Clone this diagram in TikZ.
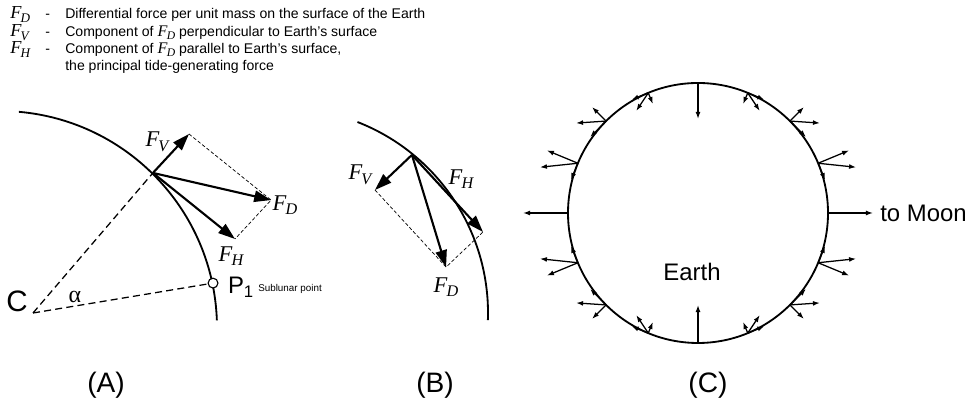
\documentclass[tikz,border=0pt]{standalone}
\usepackage{fontspec}
\setmainfont{Liberation Sans}
\newfontfamily\tnr{Liberation Serif}
\usepackage{tikz}
\usetikzlibrary{arrows.meta,positioning,calc}

\newcommand{\Fsub}[1]{{\tnr\itshape F\kern-0.04em\raisebox{-0.45ex}{\scalebox{0.72}{#1}}}}
\newcommand{\Fin}[1]{{\fontsize{11.5}{11.5}\selectfont\tnr\itshape F\kern-0.04em\raisebox{-0.35ex}{\scalebox{0.72}{#1}}}}

\begin{document}
\begin{tikzpicture}[
    x=0.025cm, y=0.025cm,
    surface/.style={line width=1.3pt},
    forcevec/.style={-{Triangle[length=12pt,width=8pt]}, line width=1.5pt},
    fieldvec/.style={-{Latex[length=5pt,width=3.5pt]}, line width=0.9pt},
    guide/.style={line width=0.5pt, dash pattern=on 2.5pt off 1.5pt},
    radline/.style={line width=0.9pt, dash pattern=on 5pt off 3pt},
    sublunar/.style={circle, draw, fill=white, line width=0.8pt, minimum size=7pt, inner sep=0pt},
    flabel/.style={font=\fontsize{16}{16}\selectfont, inner sep=0pt},
    legtext/.style={font=\fontsize{10}{12}\selectfont, anchor=base west, inner sep=0pt},
    panel/.style={font=\fontsize{20}{20}\selectfont}
]
\useasboundingbox (0,0) rectangle (970,418);

\foreach \y/\s/\t in {399/D/{Differential force per unit mass on the surface of the Earth},
    381/V/{Component of \Fin{D} perpendicular to Earth's surface},
    364/H/{Component of \Fin{D} parallel to Earth's surface,}} {
  \node[legtext] (sym\s) at (10,\y) {\fontsize{13}{13}\selectfont\Fsub{\s}};
  \node[legtext] (dash\s) at (45,\y) {-};
  \node[legtext] (txt\s) at (65,\y) {\t};
}
\node[legtext] (txtH2) at (65,347) {the principal tide-generating force};

% (A)
\coordinate (cA) at (0,90);
\draw[surface] (cA) ++(85:217) arc[start angle=85, end angle=2, radius=217];
\coordinate (ptA) at ($(cA)+(45.4:217.8)$);
\coordinate (ctr) at (33,105);
\node[sublunar] (P1) at ($(cA)+(11.9:217.7)$) {};
\draw[radline] (ctr) -- (ptA);
\draw[radline] (ctr) -- (P1);
\coordinate (vA) at (189,284);
\coordinate (hA) at (235,179);
\coordinate (dA) at ($(vA)+(hA)-(ptA)$);
\draw[guide] (vA) -- (dA) -- (hA);
\draw[forcevec] (ptA) -- (vA);
\draw[forcevec] (ptA) -- (dA);
\draw[forcevec] (ptA) -- (hA);
\node[flabel] (lvA) at (157,276) {\Fsub{V}};
\node[flabel] (ldA) at (285,213) {\Fsub{D}};
\node[flabel] (lhA) at (231,162) {\Fsub{H}};
\node[font=\fontsize{17}{17}\selectfont, inner sep=0pt] (p1lab) at (241,131) {P\textsubscript{1}};
\node[font=\fontsize{7}{8}\selectfont, anchor=west, inner sep=0pt] (sublab) at (258,129) {Sublunar point};
\node[font=\fontsize{21}{21}\selectfont, inner sep=0pt] (clab) at (17,117) {C};
\node[font=\fontsize{17}{17}\selectfont, inner sep=0pt] (alab) at (75,121) {\tnr α};

% (B)
\coordinate (cB) at (283,105);
\draw[surface] (cB) ++(68.7:205) arc[start angle=68.7, end angle=-2, radius=205];
\coordinate (ptB) at ($(cB)+(50.8:204)$);
\coordinate (vB) at (375,228);
\coordinate (hB) at (483,186);
\coordinate (dB) at ($(vB)+(hB)-(ptB)$);
\draw[guide] (vB) -- (dB) -- (hB);
\draw[forcevec] (ptB) -- (vB);
\draw[forcevec] (ptB) -- (dB);
\draw[forcevec] (ptB) -- (hB);
\node[flabel] (lvB) at (360,243) {\Fsub{V}};
\node[flabel] (lhB) at (461,239) {\Fsub{H}};
\node[flabel] (ldB) at (446,131) {\Fsub{D}};

% (C)
\coordinate (cC) at (698,205);
\draw[surface] (cC) circle[radius=130];
\foreach \ang/\fx/\fy [count=\k] in {0/45/0, 90/0/-36, 180/-45/0, 270/0/38} {
  \coordinate (a\k) at ($(cC)+(\ang:130)$);
  \draw[fieldvec] (a\k) -- ++(\fx,\fy) coordinate (tip\k);
}
\foreach \ang/\fx/\fy [count=\k] in {22.5/38/-4, 45/30/-2, 67.5/12/-18, 112.5/-12/-18,
    135/-30/-2, 157.5/-38/-4, 202.5/-38/4, 225/-30/2, 247.5/-12/18,
    292.5/12/18, 315/30/2, 337.5/38/4} {
  \pgfmathsetmacro{\dv}{\fx*cos(\ang)+\fy*sin(\ang)}
  \coordinate (s\k) at ($(cC)+(\ang:130)$);
  \draw[fieldvec] (s\k) -- ++(\fx,\fy);
  \draw[fieldvec] (s\k) -- ++({\dv*cos(\ang)},{\dv*sin(\ang)});
  \draw[fieldvec] (s\k) -- ++({\fx-\dv*cos(\ang)},{\fy-\dv*sin(\ang)});
}
\node[font=\fontsize{17}{17}\selectfont, inner sep=0pt, right=5pt of tip1] (moon) {to Moon};
\node[font=\fontsize{17}{17}\selectfont] (earth) at (692,146) {Earth};

\node[panel] (labA) at (106,33) {(A)};
\node[panel] (labB) at (435,33) {(B)};
\node[panel] (labC) at (708,33) {(C)};
\end{tikzpicture}
\end{document}
